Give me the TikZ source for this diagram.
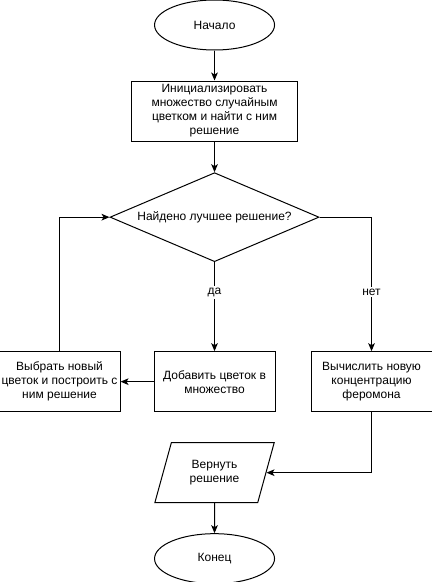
\documentclass[tikz,border=0pt]{standalone}
\usepackage{fontspec}
\setmainfont{Liberation Sans}
\usetikzlibrary{positioning,shapes.geometric,arrows.meta}
\begin{document}
\begin{tikzpicture}[node distance=22.5pt, font=\fontsize{9}{10.5}\selectfont, line width=0.75pt,
  >={Stealth[length=6pt,width=5pt,inset=1.5pt]},
  term/.style = {draw, ellipse, minimum width=90pt, minimum height=37.5pt},
  proc/.style = {draw, rectangle, minimum width=90.75pt, minimum height=45pt, inner sep=1pt, align=center},
  cond/.style = {draw, diamond, minimum width=156.75pt, minimum height=66.75pt, inner sep=0pt, aspect=2.35},
  io/.style = {draw, trapezium, trapezium left angle=71.6, trapezium right angle=108.4, trapezium stretches=true, minimum width=90pt, minimum height=45pt, align=center},
  lbl/.style = {fill=white, inner sep=1.5pt}]
\useasboundingbox (0,0) rectangle (324pt,-436.5pt);

\node[term] (start) at (160.9pt,-18.75pt) {Начало};
\node[proc, minimum width=124.5pt] (init) [below=of start] {Инициализировать\\множество случайным\\цветком и найти с ним\\решение};
\node[cond] (check) [below=23pt of init] {Найдено лучшее решение?};
\node[proc] (add) [below=66.75pt of check] {Добавить цветок в\\множество};
\node[proc] (pick) [left=24.75pt of add] {Выбрать новый\\цветок и построить с\\ним решение};
\node[proc] (calc) [right=26.25pt of add] {Вычислить новую\\концентрацию\\феромона};
\node[io] (ret) [below=of add] {Вернуть\\решение};
\node[term] (end) [below=of ret] {Конец};

\draw[->] (start) -- (init);
\draw[->] (init) -- (check);
\draw[->] (check) -- node[lbl, pos=0.34] {да} (add);
\draw[->] (check.east) -| node[lbl, pos=0.78] {нет} (calc.north);
\draw[->] (add) -- (pick);
\draw[->] (pick.north) |- (check.west);
\draw[->] (calc.south) |- (ret.east);
\draw[->] (ret) -- (end);

\end{tikzpicture}
\end{document}
